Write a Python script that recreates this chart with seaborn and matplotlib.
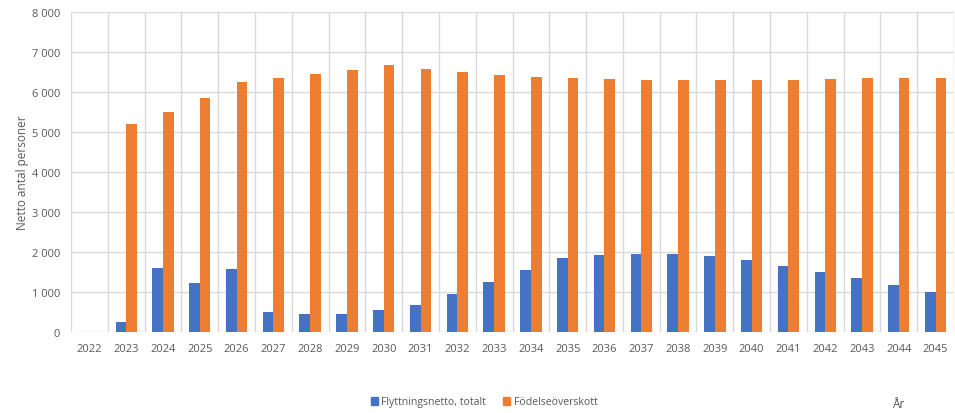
import pandas as pd
import numpy as np
import matplotlib
matplotlib.use("Agg")
import matplotlib.pyplot as plt
import seaborn as sns
from matplotlib.ticker import FuncFormatter
from matplotlib.patches import Patch

# Data
years = [str(y) for y in range(2022, 2046)]
flytt = [np.nan, 240, 1605, 1230, 1570, 490, 450, 457, 550, 665, 956, 1240, 1547,
         1846, 1930, 1954, 1954, 1900, 1800, 1660, 1510, 1340, 1180, 1006]
fodsel = [np.nan, 5210, 5510, 5860, 6245, 6350, 6450, 6550, 6670, 6570, 6490, 6420,
          6370, 6345, 6320, 6300, 6300, 6300, 6310, 6310, 6320, 6340, 6345, 6360]
series_names = ["Flyttningsnetto, totalt", "Födelseöverskott"]

df = pd.DataFrame({"År": years, series_names[0]: flytt, series_names[1]: fodsel})
long = df.melt(id_vars="År", var_name="serie", value_name="värde")

sns.set_theme(style="white")
plt.rcParams['font.family'] = ['Open Sans', 'DejaVu Sans']
text_color = "#595959"
grid_color = "#D9D9D9"
colors = ["#4472C4", "#ED7D31"]

fig = plt.figure(figsize=(9.55, 4.14), dpi=100)
ax = fig.add_axes([71 / 955, 1 - 333 / 414, (954 - 71) / 955, (333 - 13) / 414])

sns.barplot(data=long, x="År", y="värde", hue="serie", order=years,
            hue_order=series_names, palette=colors,
            width=0.58, gap=0, saturation=1, linewidth=0, ax=ax, legend=False)

ax.set_ylim(0, 8000)
ax.set_xlim(-0.5, len(years) - 0.5)
ax.set_yticks(range(0, 8001, 1000))
ax.yaxis.set_major_formatter(FuncFormatter(lambda v, p: f"{int(v):,}".replace(",", " ")))
ax.set_xticks(np.arange(-0.5, len(years), 1), minor=True)
ax.grid(axis="y", which="major", color=grid_color, linewidth=1)
ax.grid(axis="x", which="minor", color=grid_color, linewidth=1)
ax.set_axisbelow(True)
for s in ax.spines.values():
    s.set_visible(False)
ax.tick_params(axis="both", which="both", length=0, colors=text_color, labelsize=8)
ax.tick_params(axis="x", pad=8)
ax.tick_params(axis="y", pad=8)
ax.set_xlabel("")
ax.set_ylabel("Netto antal personer", color=text_color, fontsize=8.5, labelpad=2)

# legend below the plot
handles = [Patch(color=c) for c in colors]
fig.legend(handles, series_names, loc="center", bbox_to_anchor=(484 / 955, 1 - 403 / 414),
           ncol=2, frameon=False, fontsize=7.6, labelcolor=text_color,
           handlelength=0.7, handleheight=0.7, handletextpad=0.3, columnspacing=1.6)
fig.text(898 / 955, 1 - 405 / 414, "År", ha="center", va="center",
         color=text_color, fontsize=8.5)

fig.savefig("out.png", dpi=100)
